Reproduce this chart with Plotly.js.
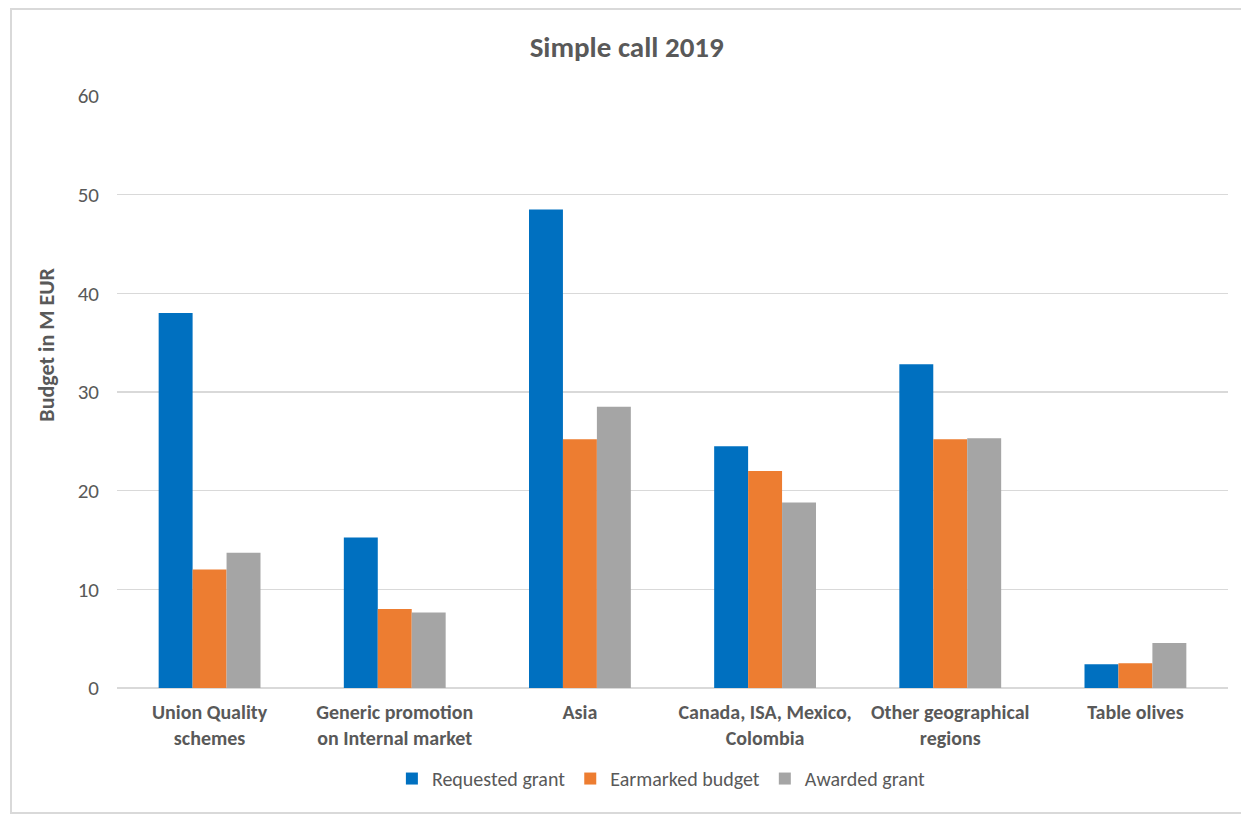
<!DOCTYPE html>
<html>
<head>
<meta charset="utf-8">
<script src="https://cdn.plot.ly/plotly-3.0.1.min.js"></script>
<style>
html,body{margin:0;padding:0;background:#fff;}
#wrap{position:relative;width:1241px;height:818px;}
#chart{width:1241px;height:818px;}
#frame{position:absolute;left:10px;top:8px;width:1240px;height:806px;border:2px solid #d9d9d9;box-sizing:border-box;pointer-events:none;}
</style>
</head>
<body>
<div id="wrap">
<div id="chart"></div>
<div id="frame"></div>
</div>
<script>
const categories = [
  "<b>Union Quality<br>schemes</b>",
  "<b>Generic promotion<br>on Internal market</b>",
  "<b>Asia</b>",
  "<b>Canada, ISA, Mexico,<br>Colombia</b>",
  "<b>Other geographical<br>regions</b>",
  "<b>Table olives</b>"
];
const requestedGrant = [38.0, 15.25, 48.5, 24.5, 32.8, 2.4];
const earmarkedBudget = [12.0, 8.0, 25.2, 22.0, 25.2, 2.5];
const awardedGrant = [13.7, 7.65, 28.5, 18.8, 25.3, 4.55];
const seriesNames = ["Requested grant", "Earmarked budget", "Awarded grant"];
const colors = ["#0070C0", "#ED7D31", "#A5A5A5"];

const FONT = "Carlito, Lato, 'Open Sans', sans-serif";
const data = [requestedGrant, earmarkedBudget, awardedGrant].map((vals, i) => ({
  type: "bar",
  x: categories,
  y: vals,
  name: seriesNames[i],
  marker: {color: colors[i], line: {width: 0}},
  hoverinfo: "skip"
}));

const layout = {
  width: 1241,
  height: 818,
  margin: {l: 117, r: 13, t: 96, b: 130},
  paper_bgcolor: "#ffffff",
  plot_bgcolor: "#ffffff",
  font: {family: FONT, color: "#595959", size: 20},
  title: {text: "<b>Simple call 2019</b>", x: 0.505, xanchor: "center", y: 0.943, yanchor: "middle",
          font: {family: FONT, size: 29, color: "#595959"}},
  barmode: "group",
  bargap: 0.45,
  bargroupgap: 0,
  xaxis: {
    type: "category",
    showgrid: false,
    showline: false,
    zeroline: false,
    ticks: "",
    tickangle: 0,
    ticklabelstandoff: 10,
    tickfont: {family: FONT, size: 20, color: "#595959"}
  },
  yaxis: {
    range: [0, 60],
    dtick: 10,
    tick0: 0,
    showgrid: true,
    gridcolor: "#d9d9d9",
    gridwidth: 1.5,
    zeroline: true,
    zerolinecolor: "#d9d9d9",
    zerolinewidth: 1.5,
    showline: false,
    ticks: "",
    ticklabelstandoff: 17,
    tickfont: {family: FONT, size: 21, color: "#595959"}
  },
  annotations: [{
    text: "<b>Budget in M EUR</b>",
    textangle: -90,
    xref: "paper", yref: "paper",
    x: -0.063, y: 0.58,
    xanchor: "center", yanchor: "middle",
    showarrow: false,
    font: {family: FONT, size: 22, color: "#595959"}
  }],
  showlegend: true,
  legend: {
    orientation: "h",
    x: 0.49, xanchor: "center",
    y: -0.12, yanchor: "top",
    font: {family: FONT, size: 20, color: "#595959"},
    itemwidth: 30,
    traceorder: "normal"
  }
};

Plotly.newPlot("chart", data, layout, {displayModeBar: false, staticPlot: true});
</script>
</body>
</html>
